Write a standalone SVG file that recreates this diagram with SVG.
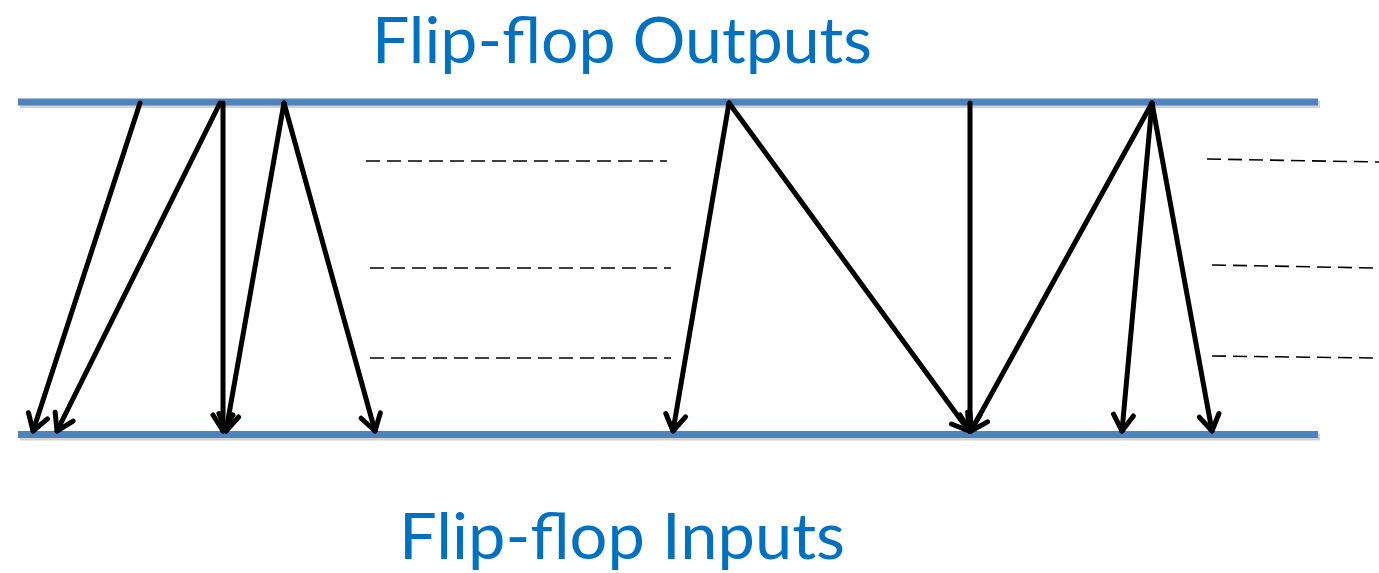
<svg xmlns="http://www.w3.org/2000/svg" width="1379" height="573" viewBox="0 0 1379 573">
<style>
.title{font-family:Lato,"Open Sans",sans-serif;font-size:63px;fill:#0070C0}
.bus{stroke:#4F81BD;stroke-width:7;fill:none}
.shadow{stroke:#000;stroke-opacity:0.18;stroke-width:7;fill:none}
.arr{stroke:#000;stroke-width:5;fill:none;stroke-linecap:round;marker-end:url(#ah)}
.dash{stroke:#000;stroke-width:1.6;stroke-dasharray:14 7;fill:none}
</style>
<defs>
<marker id="ah" markerUnits="userSpaceOnUse" markerWidth="40" markerHeight="40" viewBox="-20 -20 40 40" refX="0" refY="0" orient="auto">
<path d="M -16 -10 L 0 0 L -16 10" fill="none" stroke="#000" stroke-width="5" stroke-linecap="round" stroke-linejoin="round"/>
</marker>
</defs>
<g id="outputs-label"><text class="title" x="372" y="62.5" textLength="500" lengthAdjust="spacingAndGlyphs">Flip-flop Outputs</text></g>
<g id="inputs-label"><text class="title" x="399" y="559" textLength="446" lengthAdjust="spacingAndGlyphs">Flip-flop Inputs</text></g>
<g id="output-bus">
<line class="shadow" x1="20" y1="104.5" x2="1320" y2="104.5"/>
<line class="bus" x1="18" y1="102" x2="1318" y2="102"/>
</g>
<g id="input-bus">
<line class="shadow" x1="20" y1="437" x2="1320" y2="437"/>
<line class="bus" x1="18" y1="434.5" x2="1318" y2="434.5"/>
</g>
<g id="dashes">
<line class="dash" x1="366" y1="161" x2="667" y2="161"/>
<line class="dash" x1="370" y1="268" x2="671" y2="268"/>
<line class="dash" x1="370" y1="358" x2="671" y2="358"/>
<line class="dash" x1="1207" y1="159" x2="1379" y2="162"/>
<line class="dash" x1="1212" y1="265" x2="1375" y2="268"/>
<line class="dash" x1="1212" y1="356" x2="1375" y2="358"/>
</g>
<g id="connectors">
<line class="arr" x1="140" y1="103" x2="33" y2="431"/>
<line class="arr" x1="220" y1="103" x2="57" y2="431"/>
<line class="arr" x1="223" y1="103" x2="223" y2="431"/>
<line class="arr" x1="284" y1="103" x2="226" y2="431"/>
<line class="arr" x1="284" y1="103" x2="375" y2="431"/>
<line class="arr" x1="729" y1="103" x2="673" y2="431"/>
<line class="arr" x1="729" y1="103" x2="969" y2="431"/>
<line class="arr" x1="970" y1="103" x2="970" y2="431"/>
<line class="arr" x1="1152" y1="103" x2="971" y2="431"/>
<line class="arr" x1="1152" y1="103" x2="1122" y2="431"/>
<line class="arr" x1="1152" y1="103" x2="1212" y2="431"/>
</g>
</svg>
